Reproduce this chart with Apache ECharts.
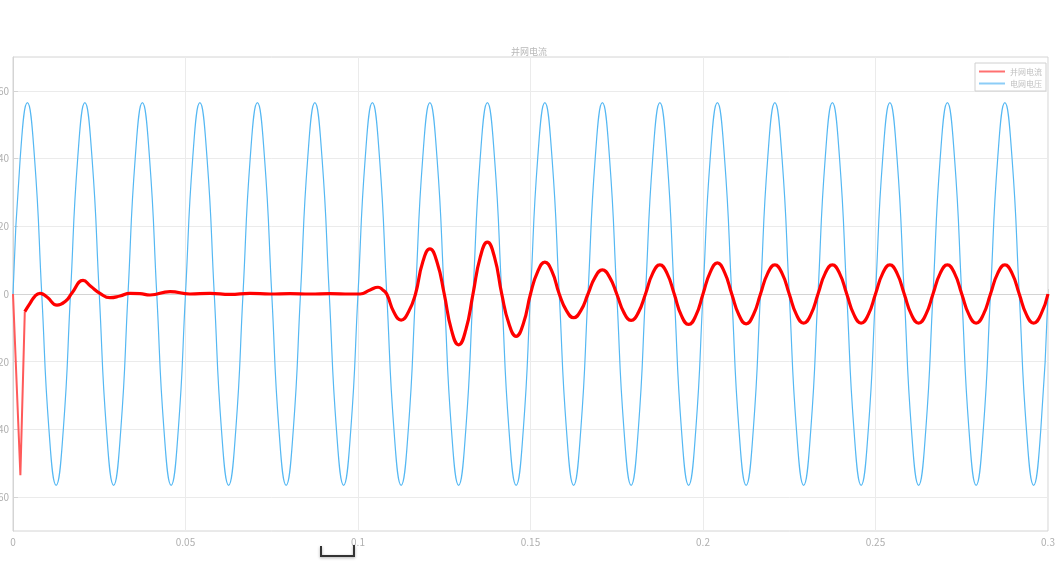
<!DOCTYPE html>
<html>
<head>
<meta charset="utf-8">
<script src="https://cdn.jsdelivr.net/npm/echarts@6/dist/echarts.min.js"></script>
<style>html,body{margin:0;padding:0;background:#fff;}#c{width:1058px;height:588px;}</style>
</head>
<body>
<div id="c"></div>
<script>
// ---- data ----
const titleText = '并网电流';
const seriesNames = ['并网电流', '电网电压'];
const xTicks = [0, 0.05, 0.1, 0.15, 0.2, 0.25, 0.3];
const yTicks = [-60, -40, -20, 0, 20, 40, 60];
const sampleStep = 1 / 480; // time step of sampled grid (s)

// grid voltage, sampled every sampleStep from t=0 to t=0.3
const gridVoltage = [
  0, 40, 56.5, 40, 0, -40, -56.5, -40,
  0, 40, 56.5, 40, 0, -40, -56.5, -40,
  0, 40, 56.5, 40, 0, -40, -56.5, -40,
  0, 40, 56.5, 40, 0, -40, -56.5, -40,
  0, 40, 56.5, 40, 0, -40, -56.5, -40,
  0, 40, 56.5, 40, 0, -40, -56.5, -40,
  0, 40, 56.5, 40, 0, -40, -56.5, -40,
  0, 40, 56.5, 40, 0, -40, -56.5, -40,
  0, 40, 56.5, 40, 0, -40, -56.5, -40,
  0, 40, 56.5, 40, 0, -40, -56.5, -40,
  0, 40, 56.5, 40, 0, -40, -56.5, -40,
  0, 40, 56.5, 40, 0, -40, -56.5, -40,
  0, 40, 56.5, 40, 0, -40, -56.5, -40,
  0, 40, 56.5, 40, 0, -40, -56.5, -40,
  0, 40, 56.5, 40, 0, -40, -56.5, -40,
  0, 40, 56.5, 40, 0, -40, -56.5, -40,
  0, 40, 56.5, 40, 0, -40, -56.5, -40,
  0, 40, 56.5, 40, 0, -40, -56.5, -40,
  0
];

// current: start-up spike
const spikeTimes = [0, 0.00214, 0.00342];
const spikeValues = [0, -53.5, -5.2];

// current: transient section (irregular samples)
const currentTimes = [0.00342, 0.00493, 0.00638, 0.00783, 0.00986, 0.01275, 0.01536, 0.0171, 0.0203, 0.02261,
  0.02522, 0.02812, 0.03101, 0.03391, 0.03681, 0.03971, 0.04551, 0.0513, 0.0571, 0.0629, 0.0687, 0.0745,
  0.0803, 0.0861, 0.0919, 0.0977, 0.1006, 0.1035, 0.1058, 0.1072];
const currentValues = [-5.2, -2.8, -0.6, 0.2, -0.9, -3.3, -2.0, 0.3, 4.0, 2.2,
  0.2, -1.1, -0.6, 0.2, 0.1, -0.3, 0.7, 0, 0.2, -0.1, 0.2, 0,
  0.1, 0, 0.1, 0, 0, 1.2, 2.0, 1.2];

// current: steady section, sampled every sampleStep starting at sample index 52
const currentTailStart = 52;
const currentTail = [
  0, -5.4, -7.7, -5.4,
  0, 9.4, 13.3, 9.4,
  0, -10.6, -15.0, -10.6,
  0, 10.8, 15.3, 10.8,
  0, -8.8, -12.5, -8.8,
  0, 6.6, 9.4, 6.6,
  0, -4.9, -7.0, -4.9,
  0, 5.0, 7.1, 5.0,
  0, -5.5, -7.8, -5.5,
  0, 6.1, 8.6, 6.1,
  0, -6.4, -9.0, -6.4,
  0, 6.4, 9.2, 6.4,
  0, -6.2, -8.8, -6.2,
  0, 6.1, 8.6, 6.1,
  0, -6.1, -8.6, -6.1,
  0, 6.1, 8.6, 6.1,
  0, -6.1, -8.6, -6.1,
  0, 6.1, 8.6, 6.1,
  0, -6.1, -8.6, -6.1,
  0, 6.1, 8.6, 6.1,
  0, -6.1, -8.6, -6.1,
  0, 6.1, 8.6, 6.1,
  0, -6.1, -8.6, -6.1,
  0
];

// ---- build series data ----
const voltageData = gridVoltage.map((v, i) => [i * sampleStep, v]);
const spikeData = spikeTimes.map((t, i) => [t, spikeValues[i]]);
const currentData = currentTimes.map((t, i) => [t, currentValues[i]])
  .concat(currentTail.map((v, i) => [(currentTailStart + i) * sampleStep, v]));

const chart = echarts.init(document.getElementById('c'), null, {renderer: 'canvas'});
const labelColor = '#b0b0b0';
const font = '"Noto Sans CJK SC", "Noto Sans", sans-serif';
chart.setOption({
  animation: false,
  backgroundColor: '#fff',
  textStyle: {fontFamily: font},
  title: {
    text: titleText, left: 'center', top: 42,
    textStyle: {fontSize: 9, fontWeight: 'normal', color: '#b8b8b8', fontFamily: font}
  },
  legend: {
    data: seriesNames.map(n => ({name: n, icon: 'rect'})), orient: 'vertical', right: 12, top: 63,
    itemWidth: 26, itemHeight: 2, itemGap: 3, padding: [4, 4, 3, 4],
    borderColor: '#d0d0d0', borderWidth: 1, backgroundColor: '#fff',
    textStyle: {fontSize: 8, color: '#c0c0c0', fontFamily: font, lineHeight: 9}
  },
  grid: {left: 13, right: 10, top: 57, bottom: 57, show: true, borderColor: '#d4d4d4', borderWidth: 1,
         containLabel: false, outerBoundsMode: 'none'},
  xAxis: {
    type: 'value', min: 0, max: 0.3, interval: 0.05,
    axisLine: {lineStyle: {color: '#d4d4d4'}},
    axisTick: {inside: true, length: 5, lineStyle: {color: '#d4d4d4'}},
    axisLabel: {color: labelColor, fontSize: 10, margin: 6, showMaxLabel: true},
    splitLine: {show: true, lineStyle: {color: '#ebebeb'}}
  },
  yAxis: {
    type: 'value', min: -70, max: 70,
    axisLine: {show: true, lineStyle: {color: '#d4d4d4'}},
    axisTick: {show: true, inside: true, length: 5, customValues: yTicks, lineStyle: {color: '#d4d4d4'}},
    axisLabel: {color: labelColor, fontSize: 10, margin: 4, customValues: yTicks},
    splitLine: {show: true, lineStyle: {color: '#ebebeb'}}
  },
  series: [
    {name: seriesNames[0], type: 'line', data: spikeData, symbol: 'none', smooth: false,
     lineStyle: {color: '#ff5a5a', width: 2}, itemStyle: {color: '#ff7070'}, z: 3},
    {name: seriesNames[1], type: 'line', data: voltageData, symbol: 'none', smooth: 0.5,
     lineStyle: {color: '#55b8f3', width: 1.2}, itemStyle: {color: '#8ccdf7'}, z: 2},
    {name: seriesNames[0], type: 'line', data: currentData, symbol: 'none', smooth: 0.5,
     lineStyle: {color: '#ff0000', width: 3.2}, itemStyle: {color: '#ff7070'}, z: 4}
  ],
  graphic: [{
    type: 'polyline', z: 100,
    shape: {points: [[321, 546], [321, 556], [354, 556], [354, 545]]},
    style: {stroke: '#333', lineWidth: 2, fill: null, shadowBlur: 3, shadowColor: 'rgba(0,0,0,0.35)', shadowOffsetY: 1}
  }]
});
</script>
</body>
</html>
